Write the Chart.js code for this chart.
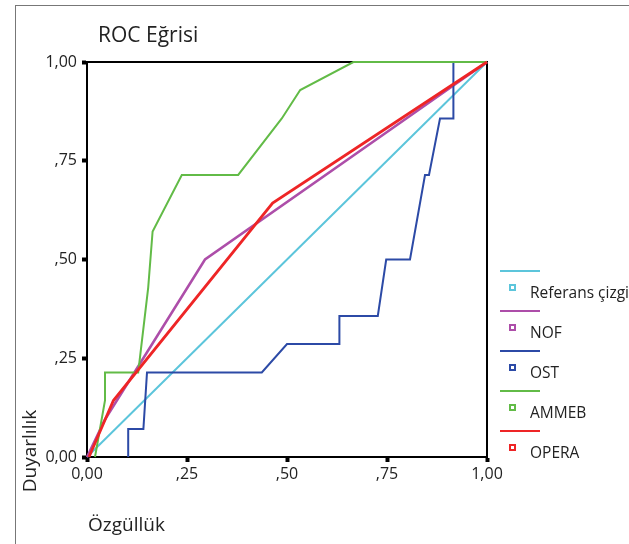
<!DOCTYPE html>
<html>
<head>
<meta charset="utf-8">
<script src="https://cdn.jsdelivr.net/npm/chart.js@4/dist/chart.umd.min.js"></script>
<style>
  html, body { margin: 0; padding: 0; background: #fff; overflow: hidden; }
  #wrap { position: relative; width: 629px; height: 544px; font-family: 'Open Sans', sans-serif; color: #222; }
  #frame { position: absolute; left: 15px; top: 5px; width: 700px; height: 700px; border-top: 1px solid #777; border-left: 1px solid #777; }
  canvas { position: absolute; left: 0; top: 0; }
  .txt { position: absolute; white-space: nowrap; }
  #title { left: 98px; top: 21.5px; font-size: 21px; line-height: 24px; }
  #xtitle { left: 88px; top: 512.5px; font-size: 19px; line-height: 22px; }
  #ytitle { left: -31px; top: 439px; width: 120px; text-align: center; font-size: 19px; line-height: 24px; transform: rotate(-90deg); transform-origin: 60px 12px; }
  .lg-line { position: absolute; left: 500px; width: 40px; height: 2px; }
  .lg-box { position: absolute; left: 509px; width: 3px; height: 3px; border: 2px solid; background: #fff; }
  .lg-text { position: absolute; left: 530px; font-size: 15.5px; line-height: 18px; white-space: nowrap; }
</style>
</head>
<body>
<div id="wrap">
  <div id="frame"></div>
  <canvas id="c" width="629" height="544"></canvas>
  <div class="txt" id="title">ROC Eğrisi</div>
  <div class="txt" id="ytitle">Duyarlılık</div>
  <div class="txt" id="xtitle">Özgüllük</div>
  <div id="legend"></div>
</div>
<script>
// ---- data ----
const seriesNames = ['Referans çizgi', 'NOF', 'OST', 'AMMEB', 'OPERA'];
const seriesColors = ['#5cc5db', '#ad4ea9', '#2c4aa6', '#62bb47', '#ee2526'];

const xTickLabels = ['0,00', ',25', ',50', ',75', '1,00'];
const yTickLabels = ['0,00', ',25', ',50', ',75', '1,00'];

const refX = [0, 1];
const refY = [0, 1];

const nofX = [0, 0.045, 0.295, 1];
const nofY = [0, 0.095, 0.5, 1];

const ostX = [0.103, 0.103, 0.141, 0.15, 0.437, 0.5, 0.631, 0.631, 0.727, 0.748, 0.8075, 0.845, 0.855, 0.8825, 0.916, 0.916, 1];
const ostY = [0, 0.071, 0.071, 0.214, 0.214, 0.286, 0.286, 0.357, 0.357, 0.5, 0.5, 0.714, 0.714, 0.857, 0.857, 1, 1];

const ammebX = [0.02, 0.045, 0.045, 0.128, 0.153, 0.164, 0.237, 0.378, 0.487, 0.533, 0.666, 1];
const ammebY = [0, 0.143, 0.214, 0.214, 0.429, 0.571, 0.714, 0.714, 0.857, 0.929, 1, 1];

const operaX = [0.005, 0.066, 0.464, 1];
const operaY = [0, 0.143, 0.643, 1];

// ---- build ----
function pts(xs, ys) { return xs.map((x, i) => ({ x: x, y: ys[i] })); }
const seriesData = [pts(refX, refY), pts(nofX, nofY), pts(ostX, ostY), pts(ammebX, ammebY), pts(operaX, operaY)];
const widths = [2, 2.5, 2, 2, 2.8];

const datasets = seriesNames.map((n, i) => ({
  label: n,
  data: seriesData[i],
  borderColor: seriesColors[i],
  backgroundColor: seriesColors[i],
  borderWidth: widths[i],
  showLine: true,
  pointRadius: 0,
  tension: 0,
  fill: false,
  clip: false,
  order: seriesNames.length - i
}));

const framePlugin = {
  id: 'frame',
  beforeDatasetsDraw(chart) {
    const a = chart.chartArea, ctx = chart.ctx;
    ctx.save();
    ctx.strokeStyle = '#000';
    ctx.lineWidth = 2;
    ctx.strokeRect(a.left, a.top, a.right - a.left, a.bottom - a.top);
    ctx.restore();
  }
};

const tickFont = { family: "'Open Sans', sans-serif", size: 16 };

new Chart(document.getElementById('c'), {
  type: 'scatter',
  data: { datasets: datasets },
  plugins: [framePlugin],
  options: {
    responsive: false,
    animation: false,
    layout: { padding: { left: 18, top: 62, right: 142, bottom: 10 } },
    plugins: { legend: { display: false }, tooltip: { enabled: false }, title: { display: false } },
    scales: {
      x: {
        type: 'linear', min: 0, max: 1,
        afterFit(s) { s.height = 77; },
        border: { display: true, color: '#000', width: 2 },
        grid: { display: true, drawOnChartArea: false, drawTicks: true, tickLength: 5, tickWidth: 4, tickColor: '#000' },
        ticks: { stepSize: 0.25, color: '#222', font: tickFont, padding: 3, maxRotation: 0,
                 callback: (v, i) => xTickLabels[i] }
      },
      y: {
        type: 'linear', min: 0, max: 1,
        afterFit(s) { s.width = 69; },
        border: { display: true, color: '#000', width: 2 },
        grid: { display: true, drawOnChartArea: false, drawTicks: true, tickLength: 5, tickWidth: 4, tickColor: '#000' },
        ticks: { stepSize: 0.25, color: '#222', font: tickFont, padding: 5,
                 callback: (v, i) => yTickLabels[i] }
      }
    }
  }
});

// ---- legend (HTML) ----
const lg = document.getElementById('legend');
seriesNames.forEach((n, i) => {
  const top = 270 + 40 * i;
  const line = document.createElement('div');
  line.className = 'lg-line';
  line.style.top = top + 'px';
  line.style.background = seriesColors[i];
  lg.appendChild(line);
  const box = document.createElement('div');
  box.className = 'lg-box';
  box.style.top = (top + 14) + 'px';
  box.style.borderColor = seriesColors[i];
  lg.appendChild(box);
  const t = document.createElement('div');
  t.className = 'lg-text';
  t.style.top = (top + 12.5) + 'px';
  t.textContent = n;
  lg.appendChild(t);
});
</script>
</body>
</html>
